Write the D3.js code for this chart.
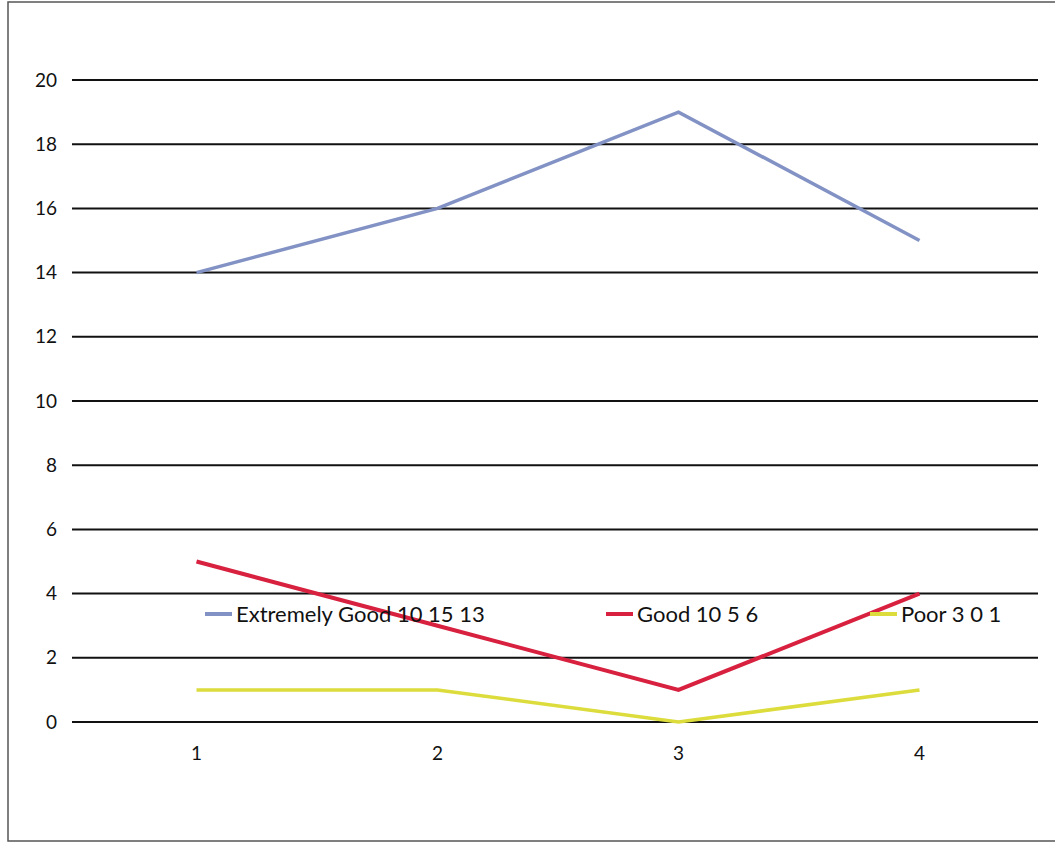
<!DOCTYPE html>
<html><head><meta charset="utf-8">
<script src="https://cdn.jsdelivr.net/npm/d3@7"></script>
<style>body{margin:0;background:#fff}svg{display:block}text{font-family:Lato,"Open Sans",sans-serif;fill:#111}</style>
</head><body><svg id="c" width="1055" height="845"></svg>
<script>
const categories = ["1","2","3","4"];
const yTicks = [0,2,4,6,8,10,12,14,16,18,20];
const seriesNames = ["Extremely Good 10 15 13","Good 10 5 6","Poor 3 0 1"];
const extremelyGood = [14,16,19,15];
const good = [5,3,1,4];
const poor = [1,1,0,1];
const colors = ["#8292c4","#d8203f","#dcdc3c"];
const series = [extremelyGood, good, poor];

const svg = d3.select("#c");
const m = {l:72, r:1038, t:80, b:722};
const x = d3.scalePoint().domain(categories).range([76, 1040]).padding(0.5);
const y = d3.scaleLinear().domain([0,20]).range([m.b, m.t]);

// frame
svg.append("rect").attr("x",8).attr("y",2).attr("width",1060).attr("height",839)
  .attr("fill","none").attr("stroke","#555").attr("stroke-width",1.5);

// gridlines
svg.append("g").selectAll("line").data(yTicks).join("line")
  .attr("x1",m.l).attr("x2",m.r).attr("y1",d=>y(d)).attr("y2",d=>y(d))
  .attr("stroke","#111").attr("stroke-width",2);

// y labels
svg.append("g").selectAll("text").data(yTicks).join("text")
  .attr("x",57).attr("y",d=>y(d)).attr("dy","0.35em").attr("text-anchor","end")
  .attr("font-size",19).text(d=>d);

// x labels
svg.append("g").selectAll("text").data(categories).join("text")
  .attr("x",d=>x(d)).attr("y",760).attr("text-anchor","middle")
  .attr("font-size",19).text(d=>d);

const line = d3.line().x((d,i)=>x(categories[i])).y(d=>y(d));
series.forEach((s,i)=>{
  svg.append("path").attr("d",line(s)).attr("fill","none")
    .attr("stroke",colors[i]).attr("stroke-width",i===1?4:3.5).attr("stroke-linejoin","miter");
});

// legend
const legX = [205, 606, 870];
const lg = svg.append("g");
seriesNames.forEach((n,i)=>{
  lg.append("line").attr("x1",legX[i]).attr("x2",legX[i]+27).attr("y1",614).attr("y2",614)
    .attr("stroke",colors[i]).attr("stroke-width",4);
  lg.append("text").attr("x",legX[i]+31).attr("y",614).attr("dy","0.35em")
    .attr("font-size",22).text(n);
});
</script></body></html>
